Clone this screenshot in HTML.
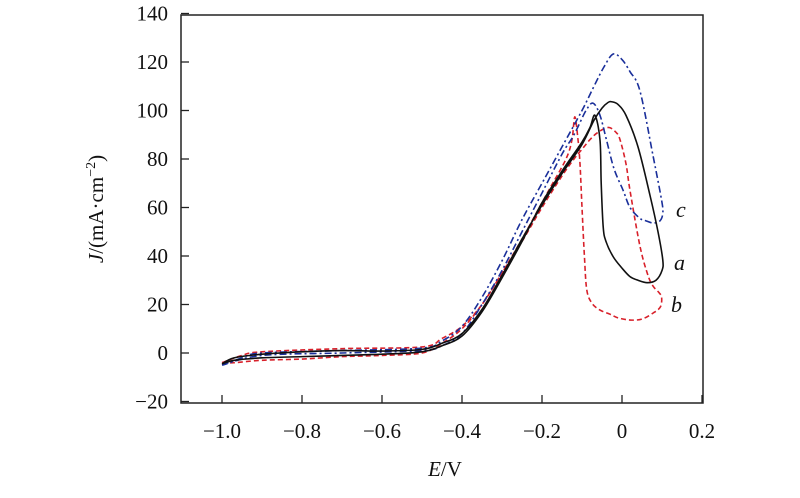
<!DOCTYPE html>
<html><head><meta charset="utf-8"><style>
body{margin:0;background:#fff;}
svg text{font-family:"Liberation Serif",serif;fill:#111;}
</style></head><body>
<svg id="chart" width="800" height="493">
<rect x="181" y="15" width="522" height="388" fill="none" stroke="#222" stroke-width="1.5"/>
<g id="axes"></g>
<g id="series"></g>
<text x="103" y="209" font-size="21" text-anchor="middle" transform="rotate(-90 103 209)"><tspan font-style="italic">J</tspan>/(mA·cm<tspan font-size="14" dy="-8">−2</tspan><tspan dy="8">)</tspan></text>
<text x="445" y="476" font-size="21" text-anchor="middle"><tspan font-style="italic">E</tspan>/V</text>
<text x="676" y="217" font-size="22" font-style="italic">c</text>
<text x="674" y="270" font-size="22" font-style="italic">a</text>
<text x="671" y="312" font-size="22" font-style="italic">b</text>
</svg>
<script>
const xTicks=[-1.0,-0.8,-0.6,-0.4,-0.2,0,0.2];
const xTickLabels=["−1.0","−0.8","−0.6","−0.4","−0.2","0","0.2"];
const yTicks=[-20,0,20,40,60,80,100,120,140];
const yTickLabels=["−20","0","20","40","60","80","100","120","140"];
const aE=[-1.0,-0.97,-0.9,-0.8,-0.7,-0.6,-0.5,-0.45,-0.4,-0.35,-0.3,-0.25,-0.2,-0.15,-0.1,-0.07,-0.05,-0.035,-0.026,-0.01,0.01,0.04,0.07,0.09,0.102,0.1,0.085,0.063,0.04,0.02,0.0,-0.022,-0.04,-0.047,-0.052,-0.055,-0.0675,-0.08,-0.1,-0.15,-0.2,-0.25,-0.3,-0.35,-0.4,-0.45,-0.5,-0.6,-0.7,-0.8,-0.9,-0.97,-1.0];
const aJ=[-4.5,-2,-0.5,0.5,1,0.8,1.5,4,8,18,32,47,61,74,86,96,101,103.3,103.6,102.5,98,85,65,50,38.3,34,30,29,30,31.5,35,39.7,46,52,70,87.8,98,93,87,75,62,46,31,17,7,3,0.5,-0.5,-1,-1.5,-2,-3,-4.5];
const bE=[-1.0,-0.95,-0.9,-0.7,-0.5,-0.45,-0.4,-0.35,-0.3,-0.25,-0.2,-0.15,-0.12,-0.1,-0.08,-0.06,-0.034,-0.015,-0.005,0.01,0.02,0.045,0.065,0.078,0.092,0.099,0.096,0.078,0.05,0.02,-0.01,-0.03,-0.055,-0.075,-0.088,-0.094,-0.1,-0.105,-0.11,-0.118,-0.125,-0.14,-0.18,-0.2,-0.25,-0.3,-0.35,-0.4,-0.45,-0.5,-0.6,-0.7,-0.8,-0.9,-0.97,-1.0];
const bJ=[-4,-1,0.5,1.8,2.5,6,11,20,33,46,60,73,80,84,88,91,93,91,88,78,67,44,32,27.5,25,23,19,16.5,14,13.6,14.5,16,17.7,20.5,26,40,60,78,88,97.4,88,80,68,62,47,33,20,10,4,0,-1,-1.5,-2.5,-3,-4,-4];
const cE=[-1.0,-0.95,-0.9,-0.7,-0.5,-0.45,-0.4,-0.35,-0.3,-0.25,-0.2,-0.15,-0.1,-0.07,-0.045,-0.022,0.0,0.02,0.045,0.078,0.099,0.102,0.095,0.078,0.06,0.045,0.02,0.003,-0.02,-0.039,-0.055,-0.072,-0.09,-0.12,-0.15,-0.2,-0.25,-0.3,-0.35,-0.4,-0.45,-0.5,-0.7,-0.9,-1.0];
const cJ=[-5,-2,0,1,2,5,11,23,38,55,70,85,100,110,118,123.3,121,116,108,81,63,57.7,54.5,53.6,54.5,55.5,60,67,76,88,98,103,100,90,82,66,50,34,20,8,3,1,0,-1,-5];
const xS=e=>622+e*400;
const yS=j=>353-j*2.425;
const NS="http://www.w3.org/2000/svg";
const axes=document.getElementById('axes');
xTicks.forEach((t,i)=>{
 const l=document.createElementNS(NS,'line');
 l.setAttribute('x1',xS(t));l.setAttribute('x2',xS(t));l.setAttribute('y1',403);l.setAttribute('y2',395);
 l.setAttribute('stroke','#222');l.setAttribute('stroke-width','1.3');
 
 
 axes.appendChild(l);
 const tx=document.createElementNS(NS,'text');
 tx.setAttribute('x',xS(t));tx.setAttribute('y',438);tx.setAttribute('font-size','21');tx.setAttribute('text-anchor','middle');
 tx.textContent=xTickLabels[i];
 
 
 axes.appendChild(tx);
});
yTicks.forEach((t,i)=>{
 const l=document.createElementNS(NS,'line');
 l.setAttribute('x1',181);l.setAttribute('x2',189);l.setAttribute('y1',yS(t));l.setAttribute('y2',yS(t));
 l.setAttribute('stroke','#222');l.setAttribute('stroke-width','1.3');
 
 
 axes.appendChild(l);
 const tx=document.createElementNS(NS,'text');
 tx.setAttribute('x',168);tx.setAttribute('y',yS(t)+7);tx.setAttribute('font-size','21');tx.setAttribute('text-anchor','end');
 tx.textContent=yTickLabels[i];
 
 
 axes.appendChild(tx);
});
function smooth(E,J){
 const p=E.map((e,i)=>[xS(e),yS(J[i])]);
 let d='M'+p[0][0]+','+p[0][1];
 for(let i=0;i<p.length-1;i++){
  const p0=p[i-1]||p[i],p1=p[i],p2=p[i+1],p3=p[i+2]||p2;
  const c1=[p1[0]+(p2[0]-p0[0])/6,p1[1]+(p2[1]-p0[1])/6];
  const c2=[p2[0]-(p3[0]-p1[0])/6,p2[1]-(p3[1]-p1[1])/6];
  d+=` C${c1[0]},${c1[1]} ${c2[0]},${c2[1]} ${p2[0]},${p2[1]}`;
 }
 return d;
}
const ser=document.getElementById('series');
function draw(E,J,color,dash,name){
 const p=document.createElementNS(NS,'path');
 p.setAttribute('d',smooth(E,J));p.setAttribute('fill','none');p.setAttribute('stroke',color);
 p.setAttribute('stroke-width','1.6');if(dash)p.setAttribute('stroke-dasharray',dash);
 
 
 ser.appendChild(p);
}
draw(bE,bJ,'#d8202a','5,3','series-b');
draw(cE,cJ,'#1a2f9a','7,3,2,3','series-c');
draw(aE,aJ,'#111',null,'series-a');
</script>
</body></html>
